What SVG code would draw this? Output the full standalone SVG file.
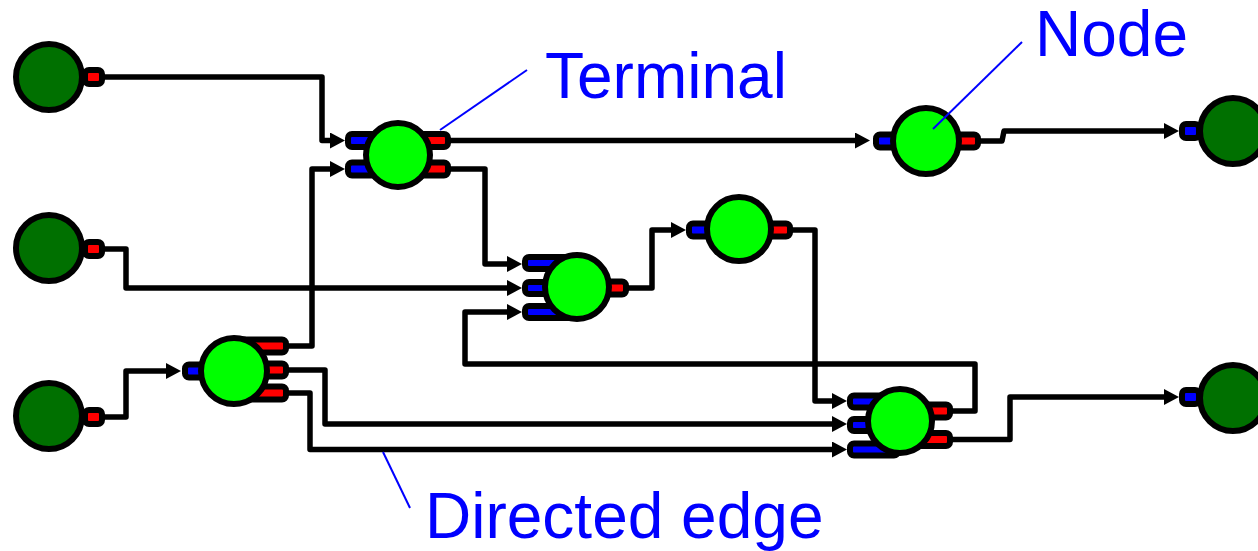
<svg xmlns="http://www.w3.org/2000/svg" width="1258" height="551" viewBox="0 0 1258 551">
<style>
.t{stroke:#000;stroke-width:6}
.in{fill:#0000ff}
.out{fill:#ff0000}
.n{fill:#00ff00;stroke:#000;stroke-width:6}
.s{fill:#007000;stroke:#000;stroke-width:6}
.e{fill:none;stroke:#000;stroke-width:5.5;stroke-linejoin:round;marker-end:url(#arr)}
.lbl{font-family:"Liberation Sans",Arial,sans-serif;font-size:64px;fill:#0000ff}
.ptr{stroke:#0000ff;stroke-width:2;fill:none}
</style>
<defs>
<marker id="arr" markerUnits="userSpaceOnUse" markerWidth="16" markerHeight="16" refX="1" refY="8" orient="auto" viewBox="0 0 16 16">
<path d="M0,0 L15,8 L0,16 z" fill="#000"/>
</marker>
</defs>
<g id="connectors">
<polyline class="e" points="105,77 322,77 322,140.5 331,140.5"/>
<polyline class="e" points="105,249 126,249 126,288 508,288"/>
<polyline class="e" points="105,417 126,417 126,371 167,371"/>
<polyline class="e" points="288,346 312,346 312,169 331,169"/>
<polyline class="e" points="288,370 325,370 325,424 833,424"/>
<polyline class="e" points="288,393 310,393 310,449.5 833,449.5"/>
<polyline class="e" points="450,140.5 856,140.5"/>
<polyline class="e" points="450,169 485,169 485,264 508,264"/>
<polyline class="e" points="628,288 652,288 652,230 672,230"/>
<polyline class="e" points="792,230 815,230 815,401 833,401"/>
<polyline class="e" points="952,411 975,411 975,364 465,364 465,312 508,312"/>
<polyline class="e" points="952,439.5 1010,439.5 1010,397 1165,397"/>
<polyline class="e" points="980,141 1002,141 1004,131 1165,131"/>
</g>
<g id="source1">
<rect class="t out" x="85" y="70" width="17" height="14" rx="4"/>
<circle class="s" cx="49" cy="77" r="33"/>
</g>
<g id="source2">
<rect class="t out" x="85" y="242" width="17" height="14" rx="4"/>
<circle class="s" cx="49" cy="248" r="33"/>
</g>
<g id="source3">
<rect class="t out" x="85" y="410" width="17" height="14" rx="4"/>
<circle class="s" cx="49" cy="416" r="33"/>
</g>
<g id="sink1">
<rect class="t in" x="1182" y="124" width="17" height="14" rx="4"/>
<circle class="s" cx="1233" cy="131" r="33"/>
</g>
<g id="sink2">
<rect class="t in" x="1182" y="390" width="17" height="14" rx="4"/>
<circle class="s" cx="1233" cy="398" r="33"/>
</g>
<g id="nodeA">
<rect class="t in" x="348" y="134" width="48" height="13" rx="4"/>
<rect class="t in" x="348" y="162.5" width="48" height="13" rx="4"/>
<rect class="t out" x="400" y="134" width="48" height="13" rx="4"/>
<rect class="t out" x="400" y="162.5" width="48" height="13" rx="4"/>
<circle class="n" cx="398" cy="155" r="32"/>
</g>
<g id="nodeB">
<rect class="t in" x="185" y="364.5" width="48" height="13" rx="4"/>
<rect class="t out" x="236" y="339.5" width="50" height="13" rx="4"/>
<rect class="t out" x="236" y="363.5" width="50" height="13" rx="4"/>
<rect class="t out" x="236" y="386.5" width="50" height="13" rx="4"/>
<circle class="n" cx="234" cy="371" r="33"/>
</g>
<g id="nodeC">
<rect class="t in" x="525" y="257" width="50" height="12" rx="4"/>
<rect class="t in" x="525" y="282" width="50" height="12" rx="4"/>
<rect class="t in" x="525" y="306" width="50" height="12" rx="4"/>
<rect class="t out" x="580" y="281.5" width="46" height="13" rx="4"/>
<circle class="n" cx="577" cy="287" r="32"/>
</g>
<g id="nodeD">
<rect class="t in" x="876" y="134.5" width="48" height="13" rx="4"/>
<rect class="t out" x="928" y="134.5" width="50" height="13" rx="4"/>
<circle class="n" cx="926" cy="141" r="33"/>
</g>
<g id="nodeE">
<rect class="t in" x="850" y="395.5" width="48" height="12" rx="4"/>
<rect class="t in" x="850" y="419" width="48" height="12" rx="4"/>
<rect class="t in" x="850" y="443.5" width="48" height="12" rx="4"/>
<rect class="t out" x="902" y="404.5" width="48" height="13" rx="4"/>
<rect class="t out" x="902" y="433" width="48" height="13" rx="4"/>
<circle class="n" cx="900" cy="421" r="32"/>
</g>
<g id="nodeF">
<rect class="t in" x="689" y="223.5" width="48" height="13" rx="4"/>
<rect class="t out" x="741" y="223.5" width="49" height="13" rx="4"/>
<circle class="n" cx="739" cy="229" r="32"/>
</g>
<g id="labels">
<line class="ptr" x1="527" y1="70" x2="440" y2="130"/>
<text class="lbl" x="545" y="98">Terminal</text>
<line class="ptr" x1="1022" y1="42" x2="933" y2="129"/>
<text class="lbl" x="1035" y="56">Node</text>
<line class="ptr" x1="410" y1="508" x2="383" y2="452"/>
<text class="lbl" x="425" y="538">Directed edge</text>
</g>
</svg>
